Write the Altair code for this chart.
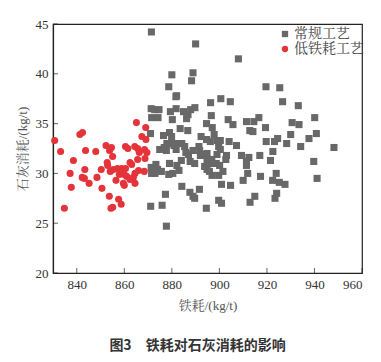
import altair as alt
import pandas as pd

# 常规工艺 (gray squares)
conv_x = [871.4, 890.0, 908.0, 880.0, 888.9, 888.3, 878.7, 919.6, 925.4, 881.7, 882.0, 900.6, 896.3, 904.6,
          926.6, 933.2, 871.3, 872.8, 874.6, 871.5, 874.2, 881.8, 879.4, 884.9, 887.9, 889.7, 886.8, 880.2,
          886.2, 896.6, 903.7, 905.7, 911.4, 914.5, 916.6, 930.6, 933.5, 940.1, 919.4, 912.8, 914.1, 894.6,
          897.0, 883.5, 886.7, 871.0, 879.0, 879.9, 876.5, 892.3, 897.8, 894.6, 896.2, 899.2, 900.4, 904.1,
          907.2, 930.0, 937.7, 940.8, 923.2, 924.5, 919.7, 928.3, 934.2, 948.2, 922.5, 874.9, 876.8, 877.9,
          879.5, 880.9, 882.4, 884.2, 877.7, 881.8, 885.4, 885.9, 887.0, 888.9, 891.4, 891.7, 893.7, 894.8,
          892.0, 899.7, 900.4, 903.0, 902.7, 899.0, 909.3, 912.4, 911.4, 911.4, 917.0, 921.5, 939.7, 896.8,
          894.8, 896.5, 898.7, 900.1, 893.8, 894.8, 895.8, 896.9, 899.7, 901.5, 889.6, 887.7, 884.0, 882.1,
          883.0, 879.0, 871.3, 873.3, 874.0, 871.5, 872.9, 875.6, 878.7, 880.4, 911.9, 910.0, 917.3, 923.9,
          922.4, 925.2, 927.6, 941.1, 900.9, 904.7, 884.2, 891.6, 887.6, 888.9, 889.6, 877.3, 914.9, 924.1,
          923.4, 899.7, 900.9, 912.9, 871.1, 875.9, 894.5, 877.7]
conv_y = [44.2, 43.0, 41.5, 39.9, 40.1, 39.3, 38.7, 38.7, 38.6, 37.7, 37.8, 37.5, 37.1, 37.2,
          37.2, 36.8, 36.5, 36.4, 36.4, 35.6, 35.6, 36.5, 36.2, 36.2, 36.4, 36.6, 35.9, 35.4,
          35.5, 35.8, 35.4, 34.9, 35.2, 35.2, 35.6, 35.1, 34.9, 35.6, 34.6, 34.3, 34.2, 35.0,
          34.6, 34.5, 34.3, 34.0, 34.1, 33.7, 33.8, 33.7, 33.9, 33.4, 33.2, 33.3, 33.3, 33.2,
          32.8, 33.9, 33.5, 34.0, 33.2, 33.5, 33.2, 33.0, 32.7, 32.6, 32.2, 32.4, 32.6, 33.0,
          33.0, 32.8, 33.0, 33.0, 32.3, 32.4, 32.7, 32.1, 31.9, 32.3, 32.7, 32.3, 31.9, 32.0,
          31.8, 32.7, 32.4, 31.8, 31.4, 31.9, 31.8, 31.6, 31.2, 30.8, 31.8, 31.3, 31.2, 31.4,
          31.3, 31.0, 31.0, 30.8, 30.7, 30.4, 30.2, 29.8, 29.8, 30.2, 31.0, 31.2, 31.3, 30.8,
          30.3, 31.0, 30.6, 30.9, 30.4, 30.0, 30.0, 30.2, 29.9, 30.0, 30.0, 29.3, 29.7, 30.0,
          29.3, 29.1, 28.9, 29.5, 28.9, 28.8, 28.7, 28.4, 28.1, 27.7, 27.5, 27.9, 27.7, 28.0,
          27.5, 27.3, 27.0, 27.1, 26.7, 26.8, 26.5, 24.7]

# 低铁耗工艺 (red circles)
low_x = [830.7, 833.2, 834.8, 837.2, 837.7, 838.6, 841.3, 842.4, 843.7, 843.4, 842.3, 843.2, 845.2, 848.0,
         848.5, 850.3, 850.6, 852.3, 852.8, 853.0, 853.8, 854.6, 855.1, 853.7, 854.4, 855.1, 854.1, 855.4,
         856.5, 857.1, 857.6, 857.9, 858.9, 859.3, 859.9, 860.5, 858.7, 859.6, 860.0, 860.5, 861.5, 861.0,
         862.4, 863.1, 862.4, 863.8, 864.5, 864.5, 864.4, 865.1, 865.6, 865.6, 866.3, 866.0, 867.4, 868.4,
         869.0, 869.1, 868.7, 868.5, 869.5]
low_y = [33.3, 32.2, 26.5, 30.0, 28.6, 31.3, 33.9, 34.1, 32.3, 30.4, 29.6, 29.5, 29.0, 32.2,
         29.6, 30.4, 28.5, 32.8, 31.1, 30.8, 32.3, 32.6, 31.7, 27.7, 26.5, 26.6, 30.2, 30.4,
         29.3, 30.5, 27.4, 29.9, 30.5, 30.2, 29.9, 30.5, 26.9, 29.0, 28.8, 32.7, 32.5, 29.7,
         31.1, 30.9, 29.4, 29.6, 30.0, 29.0, 32.7, 35.1, 32.5, 31.4, 32.1, 30.3, 33.7, 30.2,
         34.6, 33.4, 31.5, 32.4, 32.1]

series = ["常规工艺", "低铁耗工艺"]
x_ticks = [840, 860, 880, 900, 920, 940, 960]
y_ticks = [20, 25, 30, 35, 40, 45]

df = pd.concat([
    pd.DataFrame({"x": conv_x, "y": conv_y, "s": series[0]}),
    pd.DataFrame({"x": low_x, "y": low_y, "s": series[1]}),
])

LAT = "'Liberation Serif', 'Times New Roman', 'DejaVu Serif', 'Noto Serif CJK SC', 'Noto Sans CJK SC', serif"
W, H = 309, 249

xs = alt.Scale(domain=[830, 960], nice=False, zero=False)
ys = alt.Scale(domain=[20, 45], nice=False, zero=False)

points = alt.Chart(df).mark_point(filled=True, opacity=1, size=50, strokeWidth=0).encode(
    x=alt.X("x:Q", scale=xs, title="铁耗/(kg/t)",
            axis=alt.Axis(values=x_ticks, tickSize=0, grid=False, labelPadding=5, titlePadding=8)),
    y=alt.Y("y:Q", scale=ys, title="石灰消耗/(kg/t)",
            axis=alt.Axis(values=y_ticks, tickSize=0, grid=False, labelPadding=5, titlePadding=6)),
    color=alt.Color("s:N", scale=alt.Scale(domain=series, range=["#686868", "#e5333a"]),
                    legend=alt.Legend(title=None, orient="none", legendX=225, legendY=3,
                                      symbolSize=40, labelFont=LAT, labelFontSize=14,
                                      labelColor="#444", rowPadding=1, symbolOffset=0,
                                      labelOffset=2)),
    shape=alt.Shape("s:N", scale=alt.Scale(domain=series, range=["square", "circle"]), legend=None),
)

xtick_df = pd.DataFrame({"v": x_ticks})
ytick_df = pd.DataFrame({"v": y_ticks})

xt = alt.Chart(xtick_df).mark_tick(color="#222", thickness=1, size=5, orient="vertical").encode(
    x=alt.X("v:Q", scale=xs), y=alt.value(H - 2.5))
yt = alt.Chart(ytick_df).mark_tick(color="#222", thickness=1, size=5, orient="horizontal").encode(
    y=alt.Y("v:Q", scale=ys), x=alt.value(2.5))

chart = alt.layer(points, xt, yt).properties(
    width=W, height=H,
    autosize="none",
    padding={"left": 45, "top": 16, "right": 11, "bottom": 81},
    title=alt.TitleParams("图3　铁耗对石灰消耗的影响", orient="bottom", anchor="middle",
                          font="'Noto Sans CJK SC'", fontSize=14, fontWeight="bold",
                          color="#333", offset=27, dx=-10),
).configure_view(stroke="#222", strokeWidth=1.2).configure_axis(
    domainColor="#222", domainWidth=1.2, labelFont=LAT, labelFontSize=13, labelColor="#333",
    titleFont=LAT, titleFontSize=13, titleColor="#555", titleFontWeight="normal",
)

chart.save("out.html", embed_options={"renderer": "svg", "actions": False})
